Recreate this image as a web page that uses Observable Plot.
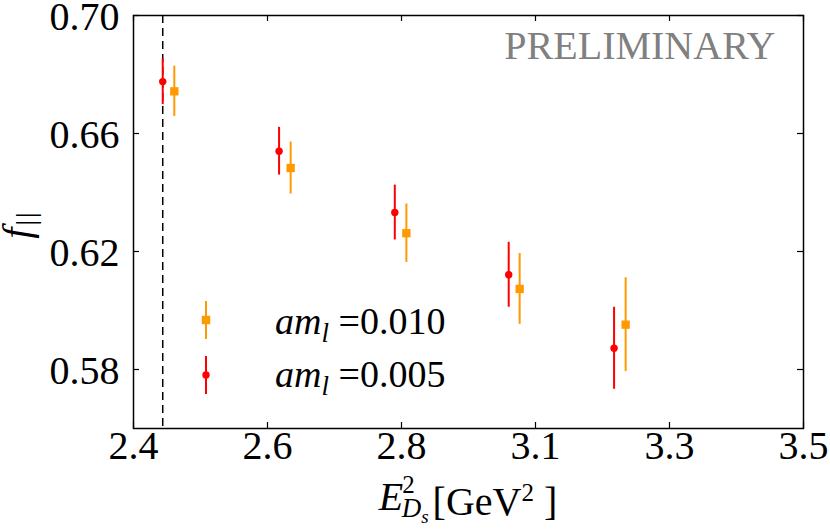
<!DOCTYPE html>
<html><head><meta charset="utf-8">
<script src="https://cdn.jsdelivr.net/npm/d3@7"></script>
<script src="https://cdn.jsdelivr.net/npm/@observablehq/plot@0.6"></script>
<style>body{margin:0;background:#fff}</style>
</head><body><div id="chart"></div>
<script>
// ---- data ----
const energyRed    = [2.448, 2.639, 2.829, 3.016, 3.189];
const fRed         = [0.6776, 0.6540, 0.6332, 0.6121, 0.5872];
const errRed       = [0.0078, 0.0081, 0.0093, 0.0110, 0.0139];
const energyOrange = [2.467, 2.658, 2.848, 3.034, 3.208];
const fOrange      = [0.6743, 0.6483, 0.6262, 0.6073, 0.5952];
const errOrange    = [0.0085, 0.0088, 0.0099, 0.0120, 0.0159];
const thresholdE   = [2.448];
const xTicks = [2.4, 2.62, 2.84, 3.06, 3.28, 3.5];
const yTicks = [0.58, 0.62, 0.66, 0.70];
const seriesLabels = ["0.010", "0.005"];
const seriesColors = ["#ff9900", "#ff0000"];
const watermark = "PRELIMINARY";

const orange = energyOrange.map((x, i) => ({x, y: fOrange[i], e: errOrange[i]}));
const red = energyRed.map((x, i) => ({x, y: fRed[i], e: errRed[i]}));

const W = 830, H = 529, mL = 133, mR = 27, mT = 15, mB = 101;
const pw = W - mL - mR, ph = H - mT - mB, tk = 6;
const FONT = "Liberation Serif";

const svgEl = Plot.plot({
  width: W, height: H,
  marginLeft: mL, marginRight: mR, marginTop: mT, marginBottom: mB,
  style: {fontFamily: FONT, fontSize: "40px", background: "white", color: "black", overflow: "visible"},
  x: {domain: [2.4, 3.5]},
  y: {domain: [0.56, 0.70]},
  marks: [
    Plot.ruleX(thresholdE, {stroke: "black", strokeWidth: 1.5, strokeDasharray: "8,5"}),
    Plot.ruleX(xTicks, {insetTop: ph - tk, stroke: "black", strokeWidth: 1.2}),
    Plot.ruleX(xTicks, {insetBottom: ph - tk, stroke: "black", strokeWidth: 1.2}),
    Plot.ruleY(yTicks, {insetRight: pw - tk, stroke: "black", strokeWidth: 1.2}),
    Plot.ruleY(yTicks, {insetLeft: pw - tk, stroke: "black", strokeWidth: 1.2}),
    Plot.axisX({ticks: xTicks, tickFormat: d => d.toFixed(1), tickSize: 0, tickPadding: 2, fontSize: 40, label: null}),
    Plot.axisY({ticks: yTicks, tickFormat: d => d.toFixed(2), tickSize: 0, tickPadding: 14, dy: 2, fontSize: 40, label: null}),
    Plot.ruleX(orange, {x: "x", y1: d => d.y - d.e, y2: d => d.y + d.e, stroke: seriesColors[0], strokeWidth: 2}),
    Plot.dot(orange, {x: "x", y: "y", symbol: "square", r: 4.7, fill: seriesColors[0]}),
    Plot.ruleX(red, {x: "x", y1: d => d.y - d.e, y2: d => d.y + d.e, stroke: seriesColors[1], strokeWidth: 2}),
    Plot.dot(red, {x: "x", y: "y", r: 3.7, fill: seriesColors[1]}),
    Plot.text([watermark], {frameAnchor: "top-right", dx: -28, dy: 15, lineAnchor: "top", textAnchor: "end", fill: "#808080", fontSize: 40}),
    Plot.frame({stroke: "black", strokeWidth: 1.5})
  ]
});
document.getElementById("chart").appendChild(svgEl);

const svg = d3.select(svgEl);

// legend
const leg = svg.append("g").attr("font-family", FONT).attr("text-anchor", "start");
const legRows = [
  {cy: mT + ph - 108, sym: "square", base: mT + ph - 94},
  {cy: mT + ph - 53, sym: "circle", base: mT + ph - 41}
];
legRows.forEach((r, i) => {
  const cx = mL + 73;
  leg.append("line").attr("x1", cx).attr("x2", cx).attr("y1", r.cy - 19).attr("y2", r.cy + 19)
    .attr("stroke", seriesColors[i]).attr("stroke-width", 2);
  if (r.sym === "square") {
    leg.append("rect").attr("x", cx - 4.2).attr("y", r.cy - 4.2).attr("width", 8.4).attr("height", 8.4).attr("fill", seriesColors[i]);
  } else {
    leg.append("circle").attr("cx", cx).attr("cy", r.cy).attr("r", 3.7).attr("fill", seriesColors[i]);
  }
  const t = leg.append("text").attr("font-family", FONT).attr("x", mL + 142).attr("y", r.base).attr("font-size", 38).attr("text-anchor", "start");
  t.append("tspan").attr("font-style", "italic").text("am");
  t.append("tspan").attr("font-style", "italic").attr("font-size", 27).attr("dy", 8).text("l");
  t.append("tspan").attr("dy", -8).text("\u00a0=" + seriesLabels[i]);
});

// y axis title
const yt = svg.append("text").attr("font-family", FONT).attr("font-size", 40)
  .attr("text-anchor", "middle")
  .attr("transform", `translate(30,${mT + ph / 2 + 3}) rotate(-90)`);
yt.append("tspan").attr("font-style", "italic").text("f");
yt.append("tspan").attr("font-size", 28).attr("dy", 5).attr("dx", 2).attr("letter-spacing", 2).text("||");

// x axis title
const xt = svg.append("text").attr("font-family", FONT).attr("font-size", 40)
  .attr("text-anchor", "middle").attr("x", mL + pw / 2).attr("y", 510);
xt.append("tspan").attr("font-style", "italic").text("E");
xt.append("tspan").attr("font-size", 25).attr("dy", -17).attr("dx", -1).text("2");
xt.append("tspan").attr("font-style", "italic").attr("font-size", 27).attr("dy", 24).attr("dx", -13).text("D");
xt.append("tspan").attr("font-style", "italic").attr("font-size", 19).attr("dy", 6).text("s");
xt.append("tspan").attr("dy", -8).attr("dx", 4).text("[GeV");
xt.append("tspan").attr("font-size", 25).attr("dy", -14).text("2");
xt.append("tspan").attr("dy", 14).text("\u00a0]");
</script>
</body></html>
